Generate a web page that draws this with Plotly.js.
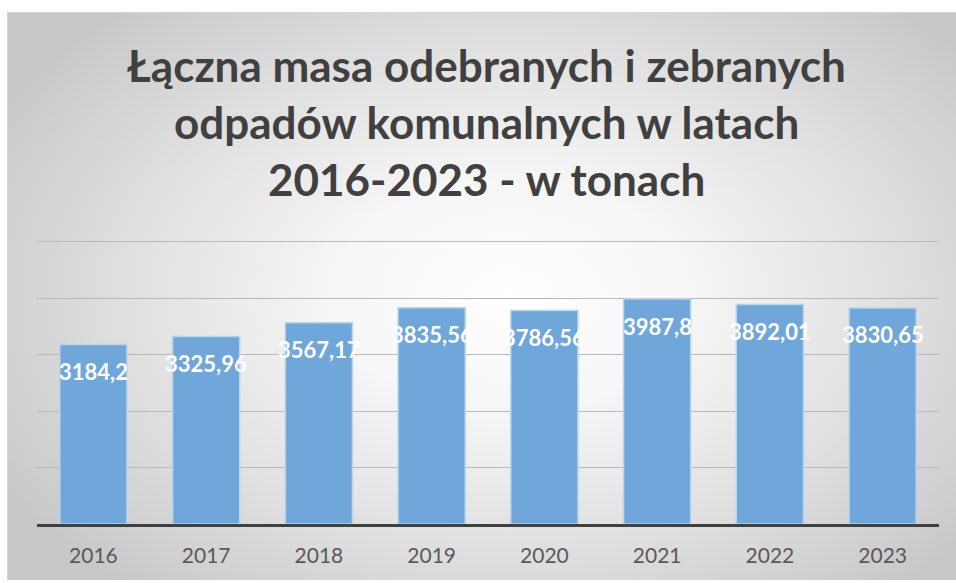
<!DOCTYPE html>
<html>
<head>
<meta charset="utf-8">
<script src="https://cdn.plot.ly/plotly-3.0.1.min.js"></script>
<style>
  html, body { margin: 0; padding: 0; background: #ffffff; }
  #bg { position: absolute; left: 7px; top: 12px; width: 949px; height: 568px;
        border-top: 1px solid #d4d4d4; border-left: 1px solid #d4d4d4; box-sizing: border-box;
        background: radial-gradient(ellipse 62% 68% at 53% 50%, #ffffff 0%, #f6f6f6 30%, #e0e0e0 65%, #c8c8c8 100%); }
  #chart { position: absolute; left: 0; top: 0; width: 956px; height: 583px; }
</style>
</head>
<body>
<div id="bg"></div>
<div id="chart"></div>
<script>
const years = ['2016', '2017', '2018', '2019', '2020', '2021', '2022', '2023'];
const tonnes = [3184.2, 3325.96, 3567.17, 3835.56, 3786.56, 3987.8, 3892.01, 3830.65];
const titleLines = ['Łączna masa odebranych i zebranych', 'odpadów komunalnych w latach', '2016-2023 - w tonach'];

const labels = tonnes.map(v => String(v).replace('.', ','));

const trace = {
  type: 'bar',
  x: years,
  y: tonnes,
  marker: { color: '#6fa7da', line: { color: '#b9d3ec', width: 1.5 } },
  hoverinfo: 'x+y'
};

const annotations = years.map((yr, i) => ({
  x: i, y: tonnes[i], xref: 'x', yref: 'y',
  text: labels[i], showarrow: false,
  yanchor: 'middle', yshift: -27,
  font: { family: 'Lato, sans-serif', size: 22, color: '#ffffff', weight: 'bold' }
}));

const layout = {
  width: 956, height: 583,
  paper_bgcolor: 'rgba(0,0,0,0)',
  plot_bgcolor: 'rgba(0,0,0,0)',
  margin: { l: 37, r: 17, t: 240, b: 59 },
  bargap: 0.405,
  showlegend: false,
  title: {
    text: titleLines.join('<br>'),
    font: { family: 'Lato, sans-serif', size: 44, color: '#404040', weight: 'bold' },
    x: 0.509, xanchor: 'center',
    y: 1 - 82 / 583, yanchor: 'top'
  },
  xaxis: {
    type: 'category',
    range: [-0.5, years.length - 0.5], autorange: false,
    showline: true, linecolor: '#404040', linewidth: 3,
    showgrid: false, ticks: '',
    tickfont: { family: 'Lato, sans-serif', size: 21, color: '#595959' },
    ticklabelstandoff: 11
  },
  yaxis: {
    range: [0, 5035], autorange: false, dtick: 1000,
    showgrid: true, gridcolor: '#b8b8b8', gridwidth: 1,
    zeroline: false, showticklabels: false, ticks: ''
  },
  annotations: annotations
};

Plotly.newPlot('chart', [trace], layout, { displayModeBar: false, staticPlot: true });
</script>
</body>
</html>
